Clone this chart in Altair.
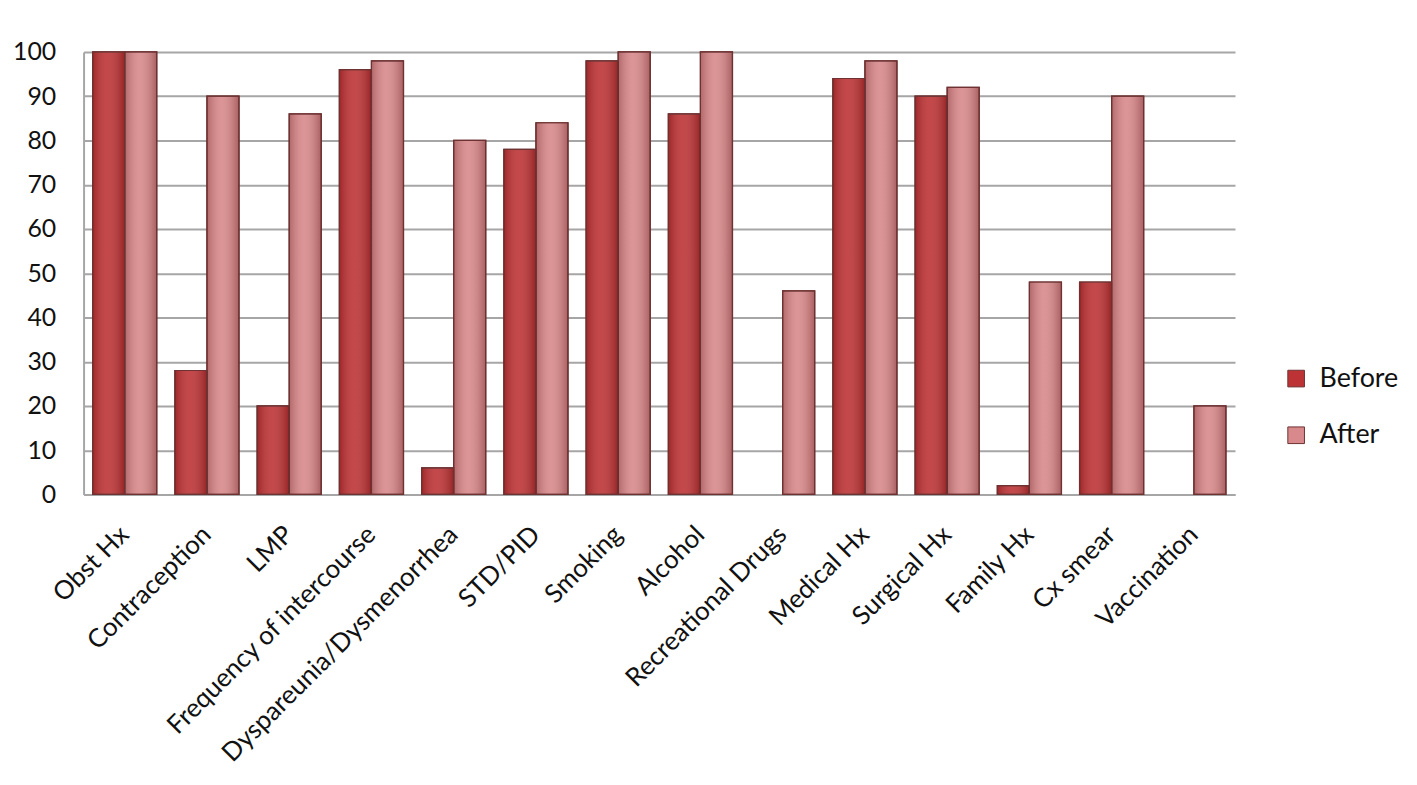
import altair as alt
import pandas as pd

categories = ["Obst Hx", "Contraception", "LMP", "Frequency of intercourse",
              "Dyspareunia/Dysmenorrhea", "STD/PID", "Smoking", "Alcohol",
              "Recreational Drugs", "Medical Hx", "Surgical Hx", "Family Hx",
              "Cx smear", "Vaccination"]
before = [100, 28, 20, 96, 6, 78, 98, 86, 0, 94, 90, 2, 48, 0]
after = [100, 90, 86, 98, 80, 84, 100, 100, 46, 98, 92, 48, 90, 20]
series = ["Before", "After"]
y_ticks = [0, 10, 20, 30, 40, 50, 60, 70, 80, 90, 100]

rows = []
for c, b, a in zip(categories, before, after):
    rows.append({"cat": c, "series": "Before", "value": b})
    rows.append({"cat": c, "series": "After", "value": a})
df = pd.DataFrame(rows)
df = df[df["value"] > 0]

FONT = "Lato"

x_enc = alt.X("cat:N", sort=categories, title=None,
              scale=alt.Scale(paddingInner=0.22, paddingOuter=0.11),
              axis=alt.Axis(labelAngle=-45, labelFontSize=26, labelColor="#111111",
                            labelFont=FONT, ticks=False, domainColor="#a6a6a6",
                            domainWidth=2, labelPadding=36, labelAlign="right",
                            labelBaseline="middle", labelLimit=400))
xo_enc = alt.XOffset("series:N", sort=series)
y_enc = alt.Y("value:Q", title=None,
              scale=alt.Scale(domain=[0, 100], nice=False),
              axis=alt.Axis(values=y_ticks, labelFontSize=25, labelColor="#111111",
                            labelFont=FONT, ticks=False, domainColor="#a6a6a6",
                            domainWidth=2, gridColor="#a6a6a6", gridWidth=2,
                            labelPadding=28))

base = alt.Chart(df).mark_bar(stroke="#6e3232", strokeWidth=1.2).encode(
    x=x_enc, xOffset=xo_enc, y=y_enc,
    color=alt.Color("series:N", sort=series,
                    scale=alt.Scale(domain=series, range=["#bd3335", "#d8898b"]),
                    legend=alt.Legend(title=None, orient="none", legendX=1206,
                                      legendY=315, labelFontSize=27, labelFont=FONT,
                                      labelColor="#111111", symbolType="square",
                                      symbolSize=280, symbolStrokeColor="#6e3232",
                                      symbolStrokeWidth=1, rowPadding=29,
                                      labelOffset=10))
)

shade = alt.Chart(df).mark_bar(
    fill=alt.Gradient(gradient="linear", x1=0, y1=0, x2=1, y2=0,
                      stops=[alt.GradientStop(offset=0, color="rgba(60,0,0,0.25)"),
                             alt.GradientStop(offset=0.45, color="rgba(255,255,255,0.10)"),
                             alt.GradientStop(offset=1, color="rgba(60,0,0,0.30)")]),
    stroke="#6e3232", strokeWidth=1.2
).encode(x=x_enc, xOffset=xo_enc, y=y_enc)

chart = alt.layer(base, shade).properties(
    width=1158, height=445,
    autosize="none",
    padding={"left": 76, "top": 42, "right": 175, "bottom": 280},
).configure_view(stroke=None)

chart.save("out.html", embed_options={"renderer": "svg", "actions": False})
